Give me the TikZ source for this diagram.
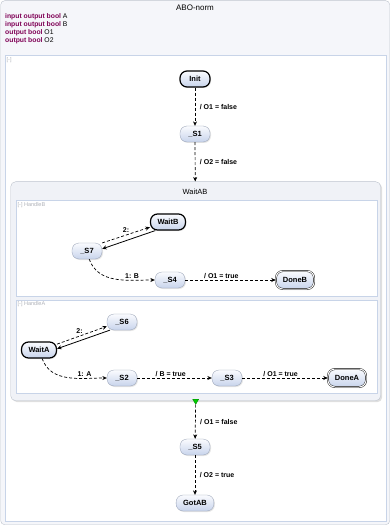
\documentclass[tikz,border=0pt]{standalone}
\usepackage{fontspec}
\setmainfont{Liberation Sans}
\usetikzlibrary{positioning, arrows.meta, shapes.geometric, shadows}

\definecolor{kwpurple}{RGB}{127,0,85}
\definecolor{hdrgray}{RGB}{245,246,250}
\definecolor{framegray}{RGB}{190,196,206}
\definecolor{bodyblue}{RGB}{200,212,232}
\definecolor{superfill}{RGB}{240,242,247}
\definecolor{statetop}{RGB}{250,251,254}
\definecolor{statebot}{RGB}{200,212,236}
\definecolor{stateline}{RGB}{150,160,180}
\definecolor{taggray}{RGB}{175,178,185}

\begin{document}
\begin{tikzpicture}[
    % GLOBAL CFG
    x=1pt, y=-1pt,
    font=\fontsize{7.5}{9}\selectfont,
    >={Stealth[length=4.5pt,width=4pt]},
    % Styles
    frame/.style={% For the outer box
        rectangle,
        rounded corners=4pt,
        draw=framegray,
        fill=hdrgray,
        },
    body/.style={% For the region below the declarations
        rectangle,
        draw=bodyblue,
        line width=1.2pt,
        fill=white,
        },
    super/.style={% For the macro state
        rectangle,
        rounded corners=5pt,
        draw=framegray,
        fill=superfill,
        drop shadow={opacity=0.25, shadow xshift=1.5pt, shadow yshift=-1.5pt},
        },
    region/.style={% For the concurrent regions
        rectangle,
        draw=bodyblue,
        line width=0.8pt,
        fill=white,
        },
    tag/.style={% Region names in the corner
        font=\fontsize{5.5}{6}\selectfont,
        text=taggray,
        inner sep=2pt,
        },
    state/.style={% For simple states
        rectangle,
        rounded corners=7pt,
        draw=stateline,
        line width=0.3pt,
        top color=statetop,
        bottom color=statebot,
        minimum height=16pt,
        minimum width=30pt,
        inner xsep=7pt,
        font=\fontsize{7.5}{8}\selectfont\bfseries,
        drop shadow={opacity=0.2, shadow xshift=1pt, shadow yshift=-1pt},
        },
    initial/.style={% Initial states
        state,
        draw=black,
        line width=1.2pt,
        },
    final/.style={% Final states
        state,
        draw=black,
        line width=0.4pt,
        double,
        double distance=1pt,
        minimum height=18pt,
        },
    trans/.style={% Dashed transitions
        ->,
        line width=0.7pt,
        dash pattern=on 3pt off 2pt,
        },
    lbl/.style={% Transition labels
        font=\fontsize{7}{8}\selectfont\bfseries,
        inner sep=1.5pt,
        },
    ]

\useasboundingbox (0,0) rectangle (391,526);

% Outer box and declarations
\node[frame, anchor=north west, minimum width=389pt, minimum height=524pt] (abo) at (0.5,0.5) {};
\node[font=\fontsize{8}{9}\selectfont] (title) at (195,8) {ABO-norm};
\node[anchor=north west, align=left, inner sep=0pt, font=\fontsize{6.8}{8}\selectfont] (decl) at (5,13.5) {%
    \textcolor{kwpurple}{\bfseries input output bool} A\\
    \textcolor{kwpurple}{\bfseries input output bool} B\\
    \textcolor{kwpurple}{\bfseries output bool} O1\\
    \textcolor{kwpurple}{\bfseries output bool} O2};
\node[body, anchor=north west, minimum width=381pt, minimum height=466pt] (main) at (4.5,55) {};
\node[tag, anchor=north west] (maintag) at (main.north west) {[-]};

% Macro state with its two regions
\node[super, anchor=north west, minimum width=370pt, minimum height=219pt] (waitAB) at (10.5,181.5) {};
\node (waitABname) at (195,192) {WaitAB};
\node[region, anchor=north west, minimum width=361pt, minimum height=95pt] (handleB) at (15.5,200.5) {};
\node[tag, anchor=north west] (handleBtag) at (handleB.north west) {[-] HandleB};
\node[region, anchor=north west, minimum width=361pt, minimum height=93pt] (handleA) at (15.5,299.5) {};
\node[tag, anchor=north west] (handleAtag) at (handleA.north west) {[-] HandleA};

% Top level states
\node[initial] (init) at (195,79) {Init};
\node[state] (s1) at (195,134) {\_S1};
\node[state] (s5) at (195,447) {\_S5};
\node[state] (gotAB) at (195,503) {GotAB};

% States of HandleB
\node[initial] (waitB) at (168,222) {WaitB};
\node[state] (s7) at (87,251) {\_S7};
\node[state] (s4) at (170,280) {\_S4};
\node[final] (doneB) at (295,280) {DoneB};

% States of HandleA
\node[state] (s6) at (122,322) {\_S6};
\node[initial] (waitA) at (39,350) {WaitA};
\node[state] (s2) at (122,378) {\_S2};
\node[state] (s3) at (227,378) {\_S3};
\node[final] (doneA) at (347,378) {DoneA};

% Termination marker
\node[regular polygon, regular polygon sides=3, shape border rotate=180, fill=green!80!black, draw=green!50!black, line width=0.3pt, inner sep=0pt, minimum size=7pt] (term) at (waitAB.south) {};

% Transitions
\draw[trans] (init) -- node[lbl, right=3pt] {/ O1 = false} (s1);
\draw[trans] (s1) -- node[lbl, right=3pt] {/ O2 = false} (waitAB);
\draw[trans] (term) -- node[lbl, right=3pt] {/ O1 = false} (s5);
\draw[trans] (s5) -- node[lbl, right=3pt] {/ O2 = true} (gotAB);

\draw[trans] (s7.28) -- node[lbl, above=1pt, pos=0.5] {2:} (waitB.196);
\draw[->, line width=0.8pt] (waitB.214) -- (s7.8);
\draw[trans] (s7.-75) to[out=-70, in=180] node[lbl, above, pos=0.72] {1: B} (s4);
\draw[trans] (s4) -- node[lbl, above, pos=0.4] {/ O1 = true} (doneB);

\draw[trans] (waitA.18) -- node[lbl, above=1pt, pos=0.45] {2:} (s6.196);
\draw[->, line width=0.8pt] (s6.214) -- (waitA.4);
\draw[trans] (waitA.-70) to[out=-70, in=180] node[lbl, above, pos=0.72] {1: A} (s2);
\draw[trans] (s2) -- node[lbl, above, pos=0.45] {/ B = true} (s3);
\draw[trans] (s3) -- node[lbl, above, pos=0.45] {/ O1 = true} (doneA);

\end{tikzpicture}
\end{document}
